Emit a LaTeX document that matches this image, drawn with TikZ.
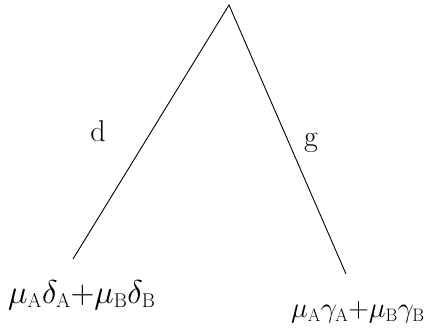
\RequirePackage{fix-cm}
\documentclass[tikz,border=0pt]{standalone}
\newcommand{\mysub}[1]{\hbox{\fontsize{20}{20}\selectfont #1}}
\newcommand{\mysubs}[1]{\hbox{\fontsize{18}{18}\selectfont #1}}
\begin{document}
\begin{tikzpicture}[x=1pt,y=-1pt,
  edge/.style={line width=0.9pt},
  lbl/.style={inner sep=0pt,font=\fontsize{30}{32}\selectfont},
  formula/.style={inner sep=0pt,anchor=base west}]
\useasboundingbox (0,0) rectangle (438,333);
\coordinate (top) at (229,5);
\coordinate (left) at (73,259);
\coordinate (right) at (346,274);
\draw[edge] (left) -- (top) -- (right);
\node[lbl,anchor=base] (d) at (98,141) {d};
\node[lbl,anchor=base] (g) at (311,146) {g};
\node[formula,font=\fontsize{33}{35}\selectfont] (fl) at (8,303) {$\mu_{\mysub{A}}\delta_{\mysub{A}}{+}\mu_{\mysub{B}}\delta_{\mysub{B}}$};
\node[formula,font=\fontsize{28.5}{30}\selectfont] (fr) at (291,317) {$\mu_{\mysubs{A}}\gamma_{\mysubs{A}}{+}\mu_{\mysubs{B}}\gamma_{\mysubs{B}}$};
\end{tikzpicture}
\end{document}
